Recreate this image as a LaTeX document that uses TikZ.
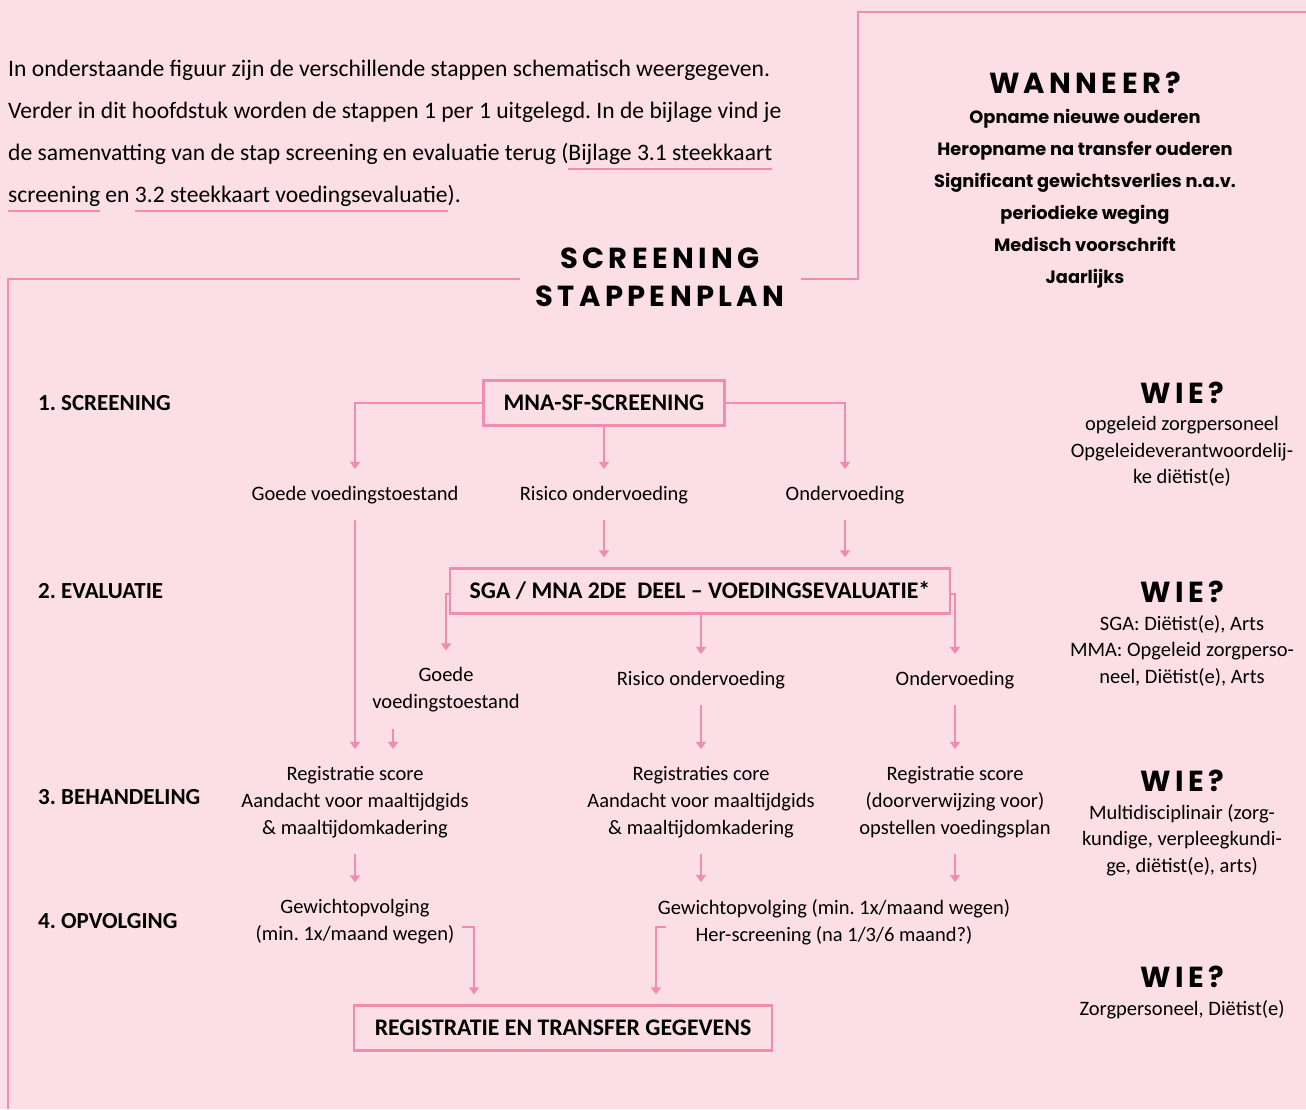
\documentclass[tikz,border=0pt]{standalone}
\usepackage{fontspec}
\setmainfont{Carlito}
\newfontfamily\headfont[LetterSpace=15]{Poppins}
\newfontfamily\listfont{Poppins}
\usetikzlibrary{positioning,arrows.meta}
\frenchspacing

\definecolor{bgpink}{RGB}{252,222,230}
\definecolor{linepink}{RGB}{240,140,172}

\newcommand{\bodyfont}{\fontsize{20.5}{27}\selectfont}
\newcommand{\capsfont}{\fontsize{23}{27}\selectfont\bfseries}
\newlength{\ulwd}
\newcommand{\pinkul}[1]{\settowidth{\ulwd}{#1}\rlap{\textcolor{linepink}{\rule[-9pt]{\ulwd}{2pt}}}#1}

\begin{document}
\begin{tikzpicture}[x=1pt, y=-1pt, font=\bodyfont,
	box/.style={draw=linepink, line width=2.4pt, inner xsep=20pt, minimum height=45pt,
		font=\fontsize{23.8}{27}\selectfont\bfseries},
	lbl/.style={align=center, inner xsep=0pt, inner ysep=7pt},
	stepname/.style={anchor=west, inner sep=0pt, font=\capsfont},
	arr/.style={draw=linepink, line width=1.8pt, -{Triangle[width=10pt,length=7pt]}, shorten >=10pt},
	arrt/.style={arr, shorten <=9pt},
	frame/.style={draw=linepink, line width=2.4pt},
	wiehead/.style={inner sep=0pt, font=\headfont\bfseries\fontsize{29}{30}\selectfont},
	wiebody/.style={align=center, inner sep=0pt, font=\fontsize{20.5}{26.5}\selectfont}]

	% Background and page size
	\fill[bgpink] (0,0) rectangle (1306,1109);
	\useasboundingbox (0,0) rectangle (1306,1109);

	% Intro text
	\node (intro) [anchor=north west, align=left, inner sep=0pt,
		font=\fontsize{23.6}{42}\selectfont] at (8,60) {%
		In onderstaande figuur zijn de verschillende stappen schematisch weergegeven.\\
		Verder in dit hoofdstuk worden de stappen 1 per 1 uitgelegd. In de bijlage vind je\\
		de samenvatting van de stap screening en evaluatie terug (\pinkul{Bijlage 3.1 steekkaart}\\
		\pinkul{screening} en \pinkul{3.2 steekkaart voedingsevaluatie}).};

	% Title and frame
	\node (title) [align=center, inner sep=0pt, font=\headfont\bfseries\fontsize{29}{38}\selectfont]
		at (660,277) {SCREENING\\STAPPENPLAN};
	\draw[frame] (520,279) -- (8,279) -- (8,1109);
	\draw[frame] (801,279) -- (858,279) -- (858,12) -- (1306,12);

	% Wanneer
	\node (when) [wiehead] at (1085,83) {WANNEER?};
	\node (whenlist) [align=center, inner sep=0pt, font=\listfont\bfseries\fontsize{17.8}{32}\selectfont]
		at (1085,199) {Opname nieuwe ouderen\\Heropname na transfer ouderen\\
		Significant gewichtsverlies n.a.v.\\periodieke weging\\Medisch voorschrift\\Jaarlijks};

	% Step names
	\node (s1) [stepname] at (38,403) {1. SCREENING};
	\node (s2) [stepname] at (38,591) {2. EVALUATIE};
	\node (s3) [stepname] at (38,797) {3. BEHANDELING};
	\node (s4) [stepname] at (38,921) {4. OPVOLGING};

	% Screening
	\node (mna) [box] at (604,403) {MNA-SF-SCREENING};
	\node (g1) [lbl] at (355,495) {Goede voedingstoestand};
	\node (r1) [lbl] at (604,495) {Risico ondervoeding};
	\node (o1) [lbl] at (845,495) {Ondervoeding};
	\draw[arr] (mna.west) -| (g1.north);
	\draw[arr] (mna.south) -- (r1.north);
	\draw[arr] (mna.east) -| (o1.north);

	% Evaluatie
	\node (sga) [box] at (700,591) {SGA / MNA 2DE\ \ DEEL -- VOEDINGSEVALUATIE*};
	\node (g2) [lbl] at (446,690) {Goede\\voedingstoestand};
	\node (r2) [lbl] at (701,680) {Risico ondervoeding};
	\node (o2) [lbl] at (955,680) {Ondervoeding};
	\draw[arrt] (r1.south) -- (r1.south |- sga.north);
	\draw[arrt] (o1.south) -- (o1.south |- sga.north);
	\draw[arr] ([yshift=-3pt]sga.west) -| (g2.north);
	\draw[arr] (sga.south -| r2) -- (r2.north);
	\draw[arr] ([yshift=-3pt]sga.east) -| (o2.north);

	% Behandeling
	\node (reg1) [lbl] at (355,802) {Registratie score\\Aandacht voor maaltijdgids\\\& maaltijdomkadering};
	\node (reg2) [lbl] at (701,802) {Registraties core\\Aandacht voor maaltijdgids\\\& maaltijdomkadering};
	\node (reg3) [lbl] at (955,802) {Registratie score\\(doorverwijzing voor)\\opstellen voedingsplan};
	\draw[arrt] (g1.south) -- (reg1.north);
	\draw[arrt] ([xshift=-53pt]g2.south) -- ([xshift=-53pt]g2.south |- reg1.north);
	\draw[arrt] (r2.south) -- (reg2.north);
	\draw[arrt] (o2.south) -- (reg3.north);

	% Opvolging
	\node (fu1) [lbl] at (355,922) {Gewichtopvolging\\(min. 1x/maand wegen)};
	\node (fu2) [lbl] at (834,922) {Gewichtopvolging (min. 1x/maand wegen)\\Her-screening (na 1/3/6 maand?)};
	\draw[arrt] (reg1.south) -- (fu1.north);
	\draw[arrt] (reg2.south) -- (reg2.south |- fu2.north);
	\draw[arrt] (reg3.south) -- (reg3.south |- fu2.north);

	% Registratie
	\node (fin) [box, inner xsep=21pt] at (563,1028) {REGISTRATIE EN TRANSFER GEGEVENS};
	\draw[arr] ([xshift=7pt,yshift=-5pt]fu1.east) -| ([xshift=-89pt]fin.north);
	\draw[arr] ([xshift=8pt,yshift=-5pt]fu2.west) -| ([xshift=93pt]fin.north);

	% Wie
	\node (wie1) [wiehead] at (1182,393) {WIE?};
	\node (wiet1) [wiebody, below=12pt of wie1] {opgeleid zorgpersoneel\\Opgeleideverantwoordelij-\\ke diëtist(e)};
	\node (wie2) [wiehead] at (1182,592) {WIE?};
	\node (wiet2) [wiebody, below=12pt of wie2] {SGA: Diëtist(e), Arts\\MMA: Opgeleid zorgperso-\\neel, Diëtist(e), Arts};
	\node (wie3) [wiehead] at (1182,781) {WIE?};
	\node (wiet3) [wiebody, below=12pt of wie3] {Multidisciplinair (zorg-\\kundige, verpleegkundi-\\ge, diëtist(e), arts)};
	\node (wie4) [wiehead] at (1182,977) {WIE?};
	\node (wiet4) [wiebody, below=12pt of wie4] {Zorgpersoneel, Diëtist(e)};

\end{tikzpicture}
\end{document}
